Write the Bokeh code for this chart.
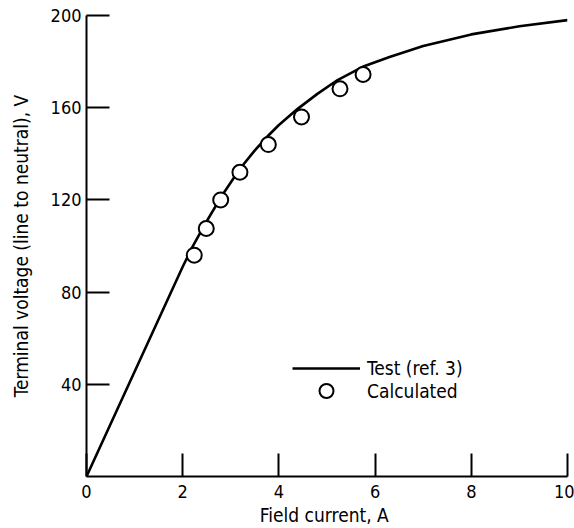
from bokeh.plotting import figure
from bokeh.models import Range1d, FixedTicker, Legend, LegendItem
from bokeh.embed import file_html
from bokeh.resources import INLINE

# Test curve (ref. 3)
test_current = [0, 2.0, 2.2, 2.45, 2.79, 3.19, 3.5, 3.76, 4.0, 4.39, 4.8, 5.22, 5.77, 6.3, 7.0, 8.0, 9.0, 10.0]
test_voltage = [0, 91, 99.5, 109, 121, 133.5, 141.5, 147.5, 152.5, 159.5, 166, 172, 178, 182, 186.8, 191.8, 195.3, 198]

# Calculated points
calc_current = [2.24, 2.49, 2.79, 3.19, 3.78, 4.47, 5.27, 5.75]
calc_voltage = [96, 107.6, 120, 132, 144, 156, 168.2, 174.4]

x_ticks = [0, 2, 4, 6, 8, 10]
y_ticks = [40, 80, 120, 160, 200]

FONT = "DejaVu Sans Condensed"

p = figure(width=574, height=528, output_backend="svg", toolbar_location=None,
           x_range=Range1d(0, 10), y_range=Range1d(0, 200),
           min_border_left=86, min_border_right=7, min_border_top=15, min_border_bottom=51)
p.outline_line_color = None
p.xgrid.visible = False
p.ygrid.visible = False

r_line = p.line(test_current, test_voltage, line_color="black", line_width=2.6)
r_pts = p.scatter(calc_current, calc_voltage, marker="circle", size=15,
                  fill_color="white", line_color="black", line_width=2)

for ax in (p.xaxis[0], p.yaxis[0]):
    ax.axis_line_width = 2
    ax.axis_line_color = "black"
    ax.major_tick_in = 23
    ax.major_tick_out = 0
    ax.major_tick_line_width = 2
    ax.minor_tick_line_color = None
    ax.major_label_text_font = FONT
    ax.major_label_text_font_size = "18px"
    ax.major_label_text_color = "black"
    ax.axis_label_text_font = FONT
    ax.axis_label_text_font_size = "19px"
    ax.axis_label_text_font_style = "normal"
    ax.axis_label_text_color = "black"

p.xaxis[0].ticker = FixedTicker(ticks=x_ticks)
p.yaxis[0].ticker = FixedTicker(ticks=y_ticks)
p.xaxis[0].axis_label = "Field current,  A"
p.yaxis[0].axis_label = "Terminal voltage (line to neutral), V"
p.xaxis[0].major_label_standoff = 8
p.yaxis[0].major_label_standoff = 5
p.xaxis[0].axis_label_standoff = 3
p.yaxis[0].axis_label_standoff = 16

common = dict(padding=0, margin=0, spacing=0, glyph_width=68, label_standoff=7,
              border_line_color=None, background_fill_alpha=0,
              label_text_font=FONT, label_text_font_size="19px", label_text_color="black")
legend_test = Legend(items=[LegendItem(label="Test (ref. 3)", renderers=[r_line])],
                     location=(206, 97), glyph_height=20, **common)
legend_calc = Legend(items=[LegendItem(label="Calculated", renderers=[r_pts])],
                     location=(206, 68), glyph_height=35, **common)
p.add_layout(legend_test)
p.add_layout(legend_calc)

open("out.html", "w").write(file_html(p, INLINE))
